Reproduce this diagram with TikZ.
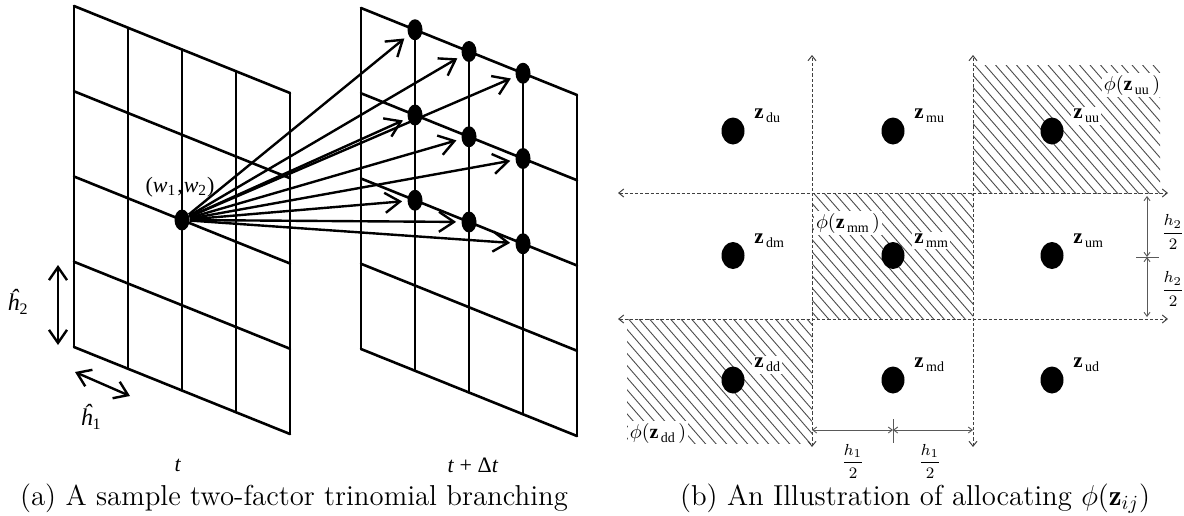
\documentclass[tikz,border=0pt]{standalone}
\usepackage{fontspec}
\newfontfamily\tms{Liberation Serif}
\usetikzlibrary{arrows.meta,calc,shapes.geometric}
\newcommand\zsub[1]{\textbf{z}\kern1.2pt\raisebox{-0.45ex}{\fontsize{7}{8}\selectfont #1}}
\newcommand\phz[1]{$\phi($\zsub{#1}$\,)$}
\newcommand\hatchrect[4]{%
  \begin{scope}
    \clip (#1,#2) rectangle (#3,#4);
    \foreach \i in {-240,-229.5,...,220}
      \draw[hatchline] ({#1+\i},#2) -- ++(200,230);
  \end{scope}}
\begin{document}
\begin{tikzpicture}[x=0.5pt,y=-0.5pt,
  gridline/.style={line width=1.3pt,line cap=round},
  bigdot/.style={ellipse,fill=black,minimum width=7.5pt,minimum height=10.5pt,inner sep=0pt},
  branch/.style={line width=1.2pt,-{Straight Barb[length=7.5pt,width=10pt]},shorten >=2.5pt},
  dblarrow/.style={line width=1.2pt,{Straight Barb[length=6.5pt,width=9pt]}-{Straight Barb[length=6.5pt,width=9pt]}},
  zdot/.style={ellipse,fill=black,minimum width=11.5pt,minimum height=13.5pt,inner sep=0pt},
  axis/.style={dash pattern=on 1.6pt off 1pt,line width=0.5pt,draw=black!75,
    {Straight Barb[length=2.5pt,width=4pt]}-{Straight Barb[length=2.5pt,width=4pt]}},
  dimline/.style={line width=0.45pt,draw=black!65,
    {Straight Barb[length=2pt,width=3pt]}-{Straight Barb[length=2pt,width=3pt]}},
  tickline/.style={line width=0.45pt,draw=black!65},
  hatchline/.style={line width=0.45pt,draw=black!70},
  zlab/.style={anchor=west,inner sep=1pt,fill=white,font=\tms\fontsize{10.5}{11}\selectfont},
  philab/.style={inner sep=1pt,fill=white,font=\tms\fontsize{10}{11}\selectfont},
  fraclab/.style={inner sep=0pt,font=\fontsize{8.5}{10}\selectfont},
  tlab/.style={font=\tms\fontsize{11}{12}\selectfont},
  caption/.style={anchor=base,inner sep=0pt,font=\fontsize{14.4}{17}\selectfont}]
\useasboundingbox (0,0) rectangle (1184,515);

% ---------- panel (a): grids ----------
\foreach \ox/\oy in {74/6,361/8}{
  \foreach \r in {0,...,4}
    \draw[gridline] (\ox,{\oy+\r*85.25}) -- ({\ox+216},{\oy+\r*85.25+87});
  \foreach \c in {0,...,4}
    \draw[gridline] ({\ox+\c*54},{\oy+\c*21.75}) -- ({\ox+\c*54},{\oy+\c*21.75+341});
}

% dots
\node[bigdot] (w) at (182,220) {};
\foreach \c in {1,2,3}{
  \foreach \r in {0,1,2}{
    \node[bigdot] (d\c\r) at ({361+\c*54},{8+\c*21.75+\r*85.25}) {};
  }
}
\foreach \c in {1,2,3}{
  \foreach \r in {0,1,2}{
    \draw[branch] (w) -- (d\c\r);
  }
}

\node[tlab] (wlab) at (180,187) {(\textit{w}\textsubscript{1}\kern0.5pt,\kern0.5pt\textit{w}\textsubscript{2})};

% step-size arrows
\coordinate (h2a) at (58,265);
\coordinate (h2b) at (58,345);
\draw[dblarrow] (h2a) -- (h2b);
\coordinate (h1a) at (75,372);
\coordinate (h1b) at (130,396);
\draw[dblarrow] (h1a) -- (h1b);
\node[tlab,font=\tms\itshape\fontsize{12}{13}\selectfont] (h2lab) at (18,302) {ĥ\textsubscript{\upshape 2}};
\node[tlab,font=\tms\itshape\fontsize{12}{13}\selectfont] (h1lab) at (91,417) {ĥ\textsubscript{\upshape 1}};

\node[tlab] (tlabA) at (178,465) {\textit{t}};
\node[tlab] (tlabB) at (473,465) {\textit{t} + Δ\textit{t}};

% ---------- panel (b) ----------
\hatchrect{973}{65}{1160}{193}
\hatchrect{812}{193}{973}{319}
\hatchrect{627}{319}{812}{443}

\coordinate (vaT) at (812,55);  \coordinate (vaB) at (812,447);
\coordinate (vbT) at (973,55);  \coordinate (vbB) at (973,447);
\coordinate (haL) at (618,193); \coordinate (haR) at (1168,193);
\coordinate (hbL) at (618,319); \coordinate (hbR) at (1168,319);
\draw[axis] (vaB) -- (vaT);
\draw[axis] (vbB) -- (vbT);
\draw[axis] (haL) -- (haR);
\draw[axis] (hbL) -- (hbR);

% dots
\foreach \nx/\xx in {d/733,m/893,u/1052}{
  \foreach \ny/\yy in {u/131,m/255.5,d/380}{
    \node[zdot] (z\nx\ny) at (\xx,\yy) {};
  }
}
\foreach \n in {du,mu,uu,dm,mm,um,dd,md,ud}{
  \node[zlab] (lab\n) at ($(z\n)+(19,-15)$) {\zsub{\n}};
}

\node[philab] (phiuu) at (1132,85) {\phz{uu}};
\node[philab] (phimm) at (848,223) {\phz{mm}};
\node[philab] (phidd) at (658,433) {\phz{dd}};

% dimensions
\coordinate (bx1) at (812,430); \coordinate (bx2) at (893,430); \coordinate (bx3) at (973,430);
\draw[dimline] (bx1) -- (bx2);
\draw[dimline] (bx2) -- (bx3);
\draw[tickline] (893,419) -- (893,443);
\coordinate (ry1) at (1147,196); \coordinate (ry2) at (1147,257); \coordinate (ry3) at (1147,317);
\draw[dimline] (ry1) -- (ry2);
\draw[dimline] (ry2) -- (ry3);
\draw[tickline] (1136,257) -- (1159,257);
\node[fraclab] (fh1a) at (853,461) {$\displaystyle\frac{h_1}{2}$};
\node[fraclab] (fh1b) at (930,461) {$\displaystyle\frac{h_1}{2}$};
\node[fraclab] (fh2a) at (1173,232) {$\displaystyle\frac{h_2}{2}$};
\node[fraclab] (fh2b) at (1173,289) {$\displaystyle\frac{h_2}{2}$};

% captions
\node[caption] (capa) at (294,505) {(a) A sample two-factor trinomial branching};
\node[caption] (capb) at (915,505) {(b) An Illustration of allocating $\phi(\mathbf{z}_{ij})$};
\end{tikzpicture}
\end{document}
